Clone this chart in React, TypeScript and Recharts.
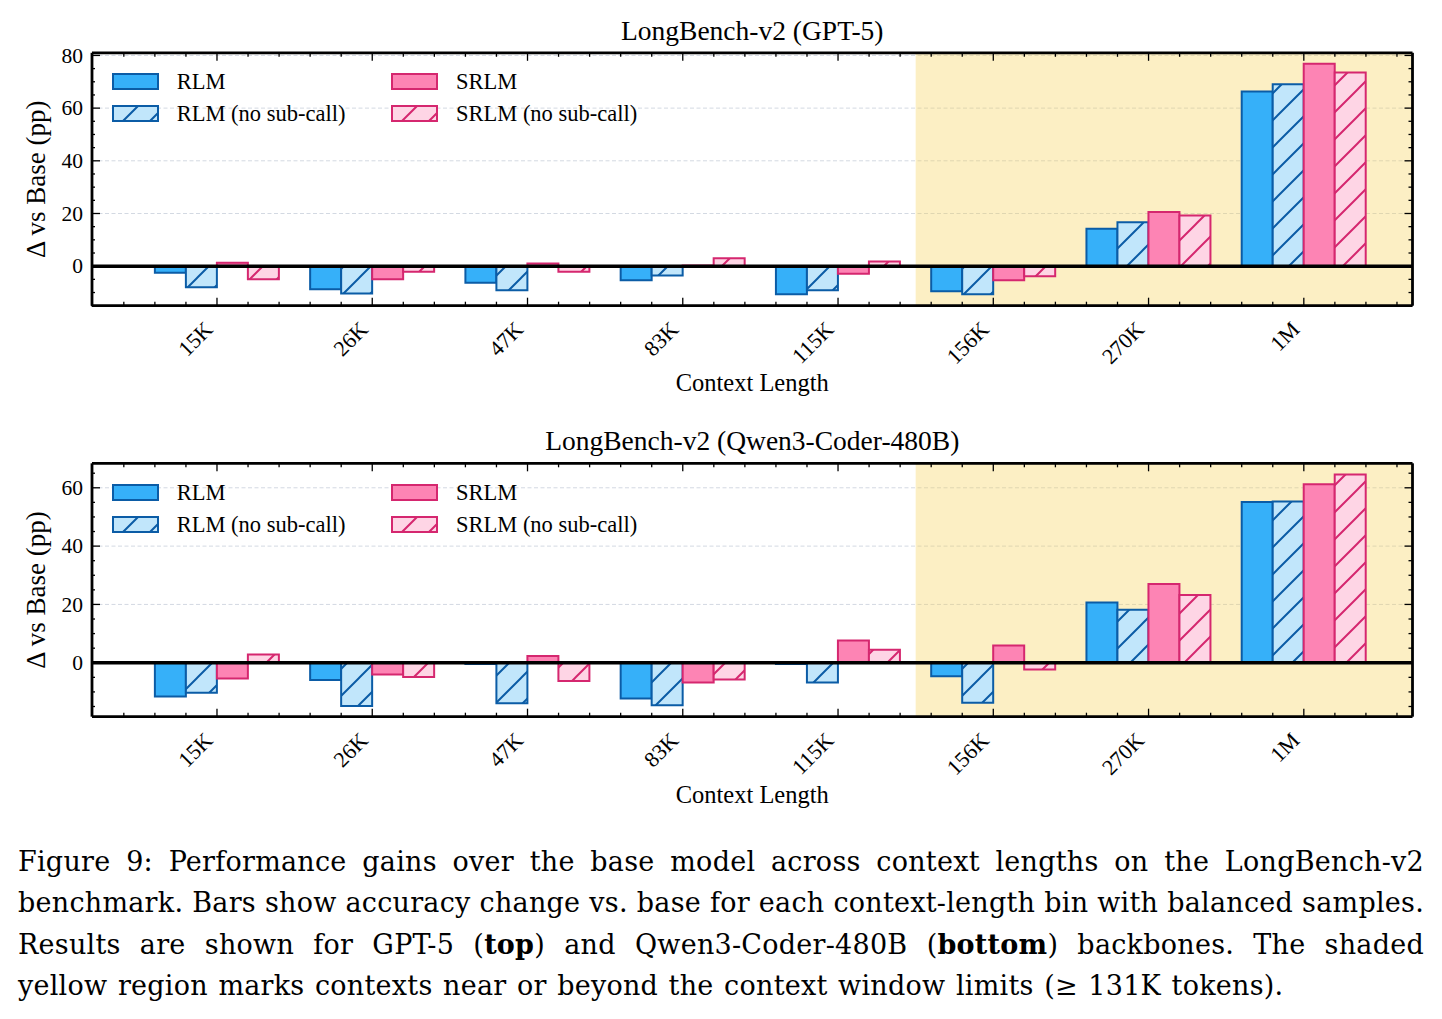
import React from 'react';
import { BarChart, Bar, XAxis, YAxis, CartesianGrid, ReferenceArea, ReferenceLine, Legend } from 'recharts';

// ---------------- data ----------------
const categories = ['15K', '26K', '47K', '83K', '115K', '156K', '270K', '1M'];
const categoryTokensK = [15, 26, 47, 83, 115, 156, 270, 1000];
const contextLimitK = 131;

const gpt5Rlm = [-2.5, -8.8, -6.3, -5.3, -10.7, -9.5, 14.2, 66.3];
const gpt5RlmNoSub = [-8.0, -10.4, -9.1, -3.5, -9.1, -10.7, 16.7, 69.1];
const gpt5Srlm = [1.3, -5.0, 1.0, 0.3, -2.9, -5.3, 20.6, 76.8];
const gpt5SrlmNoSub = [-5.0, -2.1, -2.1, 3.0, 1.8, -3.8, 19.2, 73.5];

const qwenRlm = [-11.6, -5.9, -0.4, -12.3, -0.4, -4.6, 20.7, 55.1];
const qwenRlmNoSub = [-10.3, -14.8, -13.9, -14.6, -6.8, -13.7, 18.2, 55.3];
const qwenSrlm = [-5.4, -4.0, 2.3, -6.8, 7.6, 5.9, 27.0, 61.2];
const qwenSrlmNoSub = [2.8, -4.9, -6.3, -5.7, 4.5, -2.3, 23.2, 64.6];

const gpt5YTicks = [0, 20, 40, 60, 80];
const qwenYTicks = [0, 20, 40, 60];

const seriesKeys = ['rlm', 'rlmNoSub', 'srlm', 'srlmNoSub'];
const seriesNames = ['RLM', 'RLM (no sub-call)', 'SRLM', 'SRLM (no sub-call)'];

// ---------------- style ----------------
const FONT = '"Liberation Serif", "Times New Roman", serif';
const BLUE_EDGE = '#0b5ca6';
const PINK_EDGE = '#d5276f';
const STYLES: Record<string, { base: string; edge: string; hatch: boolean }> = {
  rlm: { base: '#36b0f9', edge: BLUE_EDGE, hatch: false },
  rlmNoSub: { base: '#c1e6fb', edge: BLUE_EDGE, hatch: true },
  srlm: { base: '#fd84b4', edge: PINK_EDGE, hatch: false },
  srlmNoSub: { base: '#fed5e5', edge: PINK_EDGE, hatch: true },
};
const HATCH = 27;
const X_DOMAIN: [number, number] = [-0.805, 7.7];

const buildRows = (a: number[], b: number[], c: number[], d: number[]) =>
  categories.map((label, i) => ({ x: i, label, rlm: a[i], rlmNoSub: b[i], srlm: c[i], srlmNoSub: d[i] }));

const gpt5Rows = buildRows(gpt5Rlm, gpt5RlmNoSub, gpt5Srlm, gpt5SrlmNoSub);
const qwenRows = buildRows(qwenRlm, qwenRlmNoSub, qwenSrlm, qwenSrlmNoSub);

const shadeStart = categoryTokensK.findIndex((k) => k >= contextLimitK) - 0.5;

// tick positions (every fifth of a category step, major at categories)
const xTicks: number[] = [];
for (let k = -3; k <= 38; k++) xTicks.push(k / 5);
const isInt = (v: number) => Math.abs(v - Math.round(v)) < 1e-6;

const fillFor = (id: string, key: string) =>
  STYLES[key].hatch ? `url(#${id}-${key})` : STYLES[key].base;

const HatchDefs = ({ id }: { id: string }) => (
  <defs>
    {seriesKeys
      .filter((k) => STYLES[k].hatch)
      .map((k) => (
        <pattern key={k} id={`${id}-${k}`} patternUnits="userSpaceOnUse" width={HATCH} height={HATCH}>
          <rect width={HATCH} height={HATCH} fill={STYLES[k].base} />
          <path
            d={`M0,${HATCH} L${HATCH},0 M-2,2 L2,-2 M${HATCH - 2},${HATCH + 2} L${HATCH + 2},${HATCH - 2}`}
            stroke={STYLES[k].edge}
            strokeWidth={2}
          />
        </pattern>
      ))}
  </defs>
);

const XTickBottom = (props: any) => {
  const { x, y, payload } = props;
  const v = payload.value;
  const major = isInt(v);
  const lx = x - 3;
  const ly = y + 25;
  return (
    <g>
      <line x1={x} x2={x} y1={y} y2={y - (major ? 8 : 4)} stroke="#000" strokeWidth={1.3} />
      {major && (
        <text
          x={lx}
          y={ly}
          transform={`rotate(-45 ${lx} ${ly})`}
          textAnchor="end"
          fontSize={22}
          fontFamily={FONT}
          fill="#000"
        >
          {categories[Math.round(v)]}
        </text>
      )}
    </g>
  );
};

const XTickTop = (props: any) => {
  const { x, y, payload } = props;
  const major = isInt(payload.value);
  return <line x1={x} x2={x} y1={y} y2={y + (major ? 8 : 4)} stroke="#000" strokeWidth={1.3} />;
};

const YTickLeftMajor = (props: any) => {
  const { x, y, payload } = props;
  return (
    <g>
      <line x1={x} x2={x + 8} y1={y} y2={y} stroke="#000" strokeWidth={1.3} />
      <text x={x - 9} y={y} dy="0.34em" textAnchor="end" fontSize={21.5} fontFamily={FONT} fill="#000">
        {payload.value}
      </text>
    </g>
  );
};

const YTickLeftMinor = (props: any) => {
  const { x, y } = props;
  return <line x1={x} x2={x + 4} y1={y} y2={y} stroke="#000" strokeWidth={1.3} />;
};

const makeYTickRight = (majors: number[]) => (props: any) => {
  const { x, y, payload } = props;
  const major = majors.includes(payload.value);
  return <line x1={x} x2={x - (major ? 8 : 4)} y1={y} y2={y} stroke="#000" strokeWidth={1.3} />;
};

const LegendBox = ({ id, payload }: { id: string; payload?: any[] }) => {
  const items = seriesKeys.map((k, i) => {
    const p = (payload || []).find((e: any) => e && (e.dataKey === k || (e.payload && e.payload.dataKey === k)));
    return { key: k, name: (p && p.value) || seriesNames[i] };
  });
  const colX = [0, 279.3];
  const rowY = [0, 32.5];
  return (
    <div style={{ position: 'relative', width: 600, height: 60 }}>
      {items.map((it, i) => {
        const col = Math.floor(i / 2);
        const row = i % 2;
        return (
          <div
            key={it.key}
            style={{
              position: 'absolute',
              left: colX[col],
              top: rowY[row],
              height: 17,
              display: 'flex',
              alignItems: 'center',
              whiteSpace: 'nowrap',
            }}
          >
            <svg width={47} height={17} style={{ display: 'block' }}>
              <rect x={1} y={1} width={45} height={15} fill={fillFor(id, it.key)} stroke={STYLES[it.key].edge} strokeWidth={2} />
            </svg>
            <span style={{ marginLeft: 18, fontSize: 22.5, fontFamily: FONT, lineHeight: '17px', color: '#000' }}>
              {it.name}
            </span>
          </div>
        );
      })}
    </div>
  );
};

type PanelProps = {
  id: string;
  title: string;
  rows: any[];
  yDomain: [number, number];
  yMajor: number[];
  height: number;
  margin: { top: number; right: number; bottom: number; left: number };
  legendTop: number;
  xLabelGap: number;
};

const Panel = ({ id, title, rows, yDomain, yMajor, height, margin, legendTop, xLabelGap }: PanelProps) => {
  const yAll: number[] = [];
  for (let v = Math.ceil(yDomain[0] / 5) * 5; v <= yDomain[1] + 1e-9; v += 5) yAll.push(v);
  const yMinor = yAll.filter((v) => !yMajor.includes(v));
  const YRight = makeYTickRight(yMajor);
  return (
    <BarChart width={1426} height={height} data={rows} margin={margin} barGap={0} barCategoryGap="10%">
      <HatchDefs id={id} />
      <ReferenceArea
        x1={shadeStart}
        x2={X_DOMAIN[1]}
        fill="rgb(246,209,86)"
        fillOpacity={0.35}
        stroke="none"
        ifOverflow="visible"
      />
      <CartesianGrid vertical={false} stroke="#d3d9e2" strokeDasharray="4 2.5" strokeWidth={1} />
      <XAxis
        dataKey="x"
        type="number"
        domain={X_DOMAIN}
        allowDataOverflow
        ticks={xTicks}
        interval={0}
        height={1}
        tickSize={0}
        tickMargin={0}
        tick={<XTickBottom />}
        tickLine={false}
        axisLine={{ stroke: '#000', strokeWidth: 2.8 }}
        label={{
          content: (p: any) => {
            const vb = p.viewBox || {};
            return (
              <text
                x={vb.x + vb.width / 2}
                y={vb.y + xLabelGap}
                textAnchor="middle"
                dominantBaseline="central"
                fontSize={24.5}
                fontFamily={FONT}
                fill="#000"
              >
                Context Length
              </text>
            );
          },
        }}
      />
      <XAxis
        xAxisId="top"
        dataKey="x"
        type="number"
        orientation="top"
        domain={X_DOMAIN}
        allowDataOverflow
        ticks={xTicks}
        interval={0}
        height={1}
        tickSize={0}
        tickMargin={0}
        tick={<XTickTop />}
        tickLine={false}
        axisLine={{ stroke: '#000', strokeWidth: 2.8 }}
        label={{
          content: (p: any) => {
            const vb = p.viewBox || {};
            return (
              <text
                x={vb.x + vb.width / 2}
                y={vb.y + (vb.height || 0) - 22.5}
                textAnchor="middle"
                dominantBaseline="central"
                fontSize={27.5}
                fontFamily={FONT}
                fill="#000"
              >
                {title}
              </text>
            );
          },
        }}
      />
      <YAxis
        type="number"
        domain={yDomain}
        allowDataOverflow
        ticks={yMajor}
        interval={0}
        width={1}
        tickSize={0}
        tickMargin={0}
        tick={<YTickLeftMajor />}
        tickLine={false}
        axisLine={{ stroke: '#000', strokeWidth: 2.8 }}
        label={{
          content: (p: any) => {
            const vb = p.viewBox || {};
            const cx = vb.x - 55;
            const cy = vb.y + vb.height / 2;
            return (
              <text
                x={cx}
                y={cy}
                transform={`rotate(-90 ${cx} ${cy})`}
                textAnchor="middle"
                dominantBaseline="central"
                fontSize={27}
                fontFamily={FONT}
                fill="#000"
              >
                Δ vs Base (pp)
              </text>
            );
          },
        }}
      />
      <YAxis
        yAxisId="minor"
        type="number"
        domain={yDomain}
        allowDataOverflow
        ticks={yMinor}
        interval={0}
        width={1}
        tickSize={0}
        tickMargin={0}
        tick={<YTickLeftMinor />}
        tickLine={false}
        axisLine={false}
      />
      <YAxis
        yAxisId="right"
        orientation="right"
        type="number"
        domain={yDomain}
        allowDataOverflow
        ticks={yAll}
        interval={0}
        width={1}
        tickSize={0}
        tickMargin={0}
        tick={<YRight />}
        tickLine={false}
        axisLine={{ stroke: '#000', strokeWidth: 2.8 }}
      />
      {seriesKeys.map((k, i) => (
        <Bar
          key={k}
          dataKey={k}
          name={seriesNames[i]}
          fill={fillFor(id, k)}
          stroke={STYLES[k].edge}
          strokeWidth={2}
          isAnimationActive={false}
        />
      ))}
      <ReferenceLine y={0} stroke="#000" strokeWidth={3.5} />
      <Legend
        layout="horizontal"
        verticalAlign="middle"
        align="center"
        wrapperStyle={{ left: 103.7, top: legendTop, width: 600, height: 60 }}
        content={(p: any) => <LegendBox id={id} payload={p.payload} />}
      />
    </BarChart>
  );
};

const captionLine: React.CSSProperties = {
  height: 41.3,
  lineHeight: '41.3px',
  whiteSpace: 'nowrap',
  textAlign: 'justify',
  textAlignLast: 'justify',
};

export default function App() {
  return (
    <div style={{ position: 'relative', width: 1426, height: 1003, background: '#fff' }}>
      <div style={{ position: 'absolute', left: 0, top: 0 }}>
        <Panel
          id="gpt5"
          title="LongBench-v2 (GPT-5)"
          rows={gpt5Rows}
          yDomain={[-15, 81]}
          yMajor={gpt5YTicks}
          height={400}
          margin={{ top: 43.8, right: 20.5, bottom: 101.3, left: 82 }}
          legendTop={64.5}
          xLabelGap={77}
        />
      </div>
      <div style={{ position: 'absolute', left: 0, top: 400 }}>
        <Panel
          id="qwen"
          title="LongBench-v2 (Qwen3-Coder-480B)"
          rows={qwenRows}
          yDomain={[-18.5, 68.4]}
          yMajor={qwenYTicks}
          height={410}
          margin={{ top: 54.3, right: 20.5, bottom: 100.3, left: 82 }}
          legendTop={75.8}
          xLabelGap={78}
        />
      </div>
      <div
        style={{
          position: 'absolute',
          left: 10,
          top: 833,
          width: 1406,
          fontFamily: '"DejaVu Serif", serif',
          fontSize: 27,
          letterSpacing: 0.25,
          color: '#000',
        }}
      >
        <div style={captionLine}>
          Figure 9: Performance gains over the base model across context lengths on the LongBench-v2
        </div>
        <div style={captionLine}>
          benchmark. Bars show accuracy change vs. base for each context-length bin with balanced samples.
        </div>
        <div style={captionLine}>
          Results are shown for GPT-5 (<b>top</b>) and Qwen3-Coder-480B (<b>bottom</b>) backbones. The shaded
        </div>
        <div style={{ ...captionLine, textAlign: 'left', textAlignLast: 'left', wordSpacing: 1.7 }}>
          yellow region marks contexts near or beyond the context window limits (≥ 131K tokens).
        </div>
      </div>
    </div>
  );
}
